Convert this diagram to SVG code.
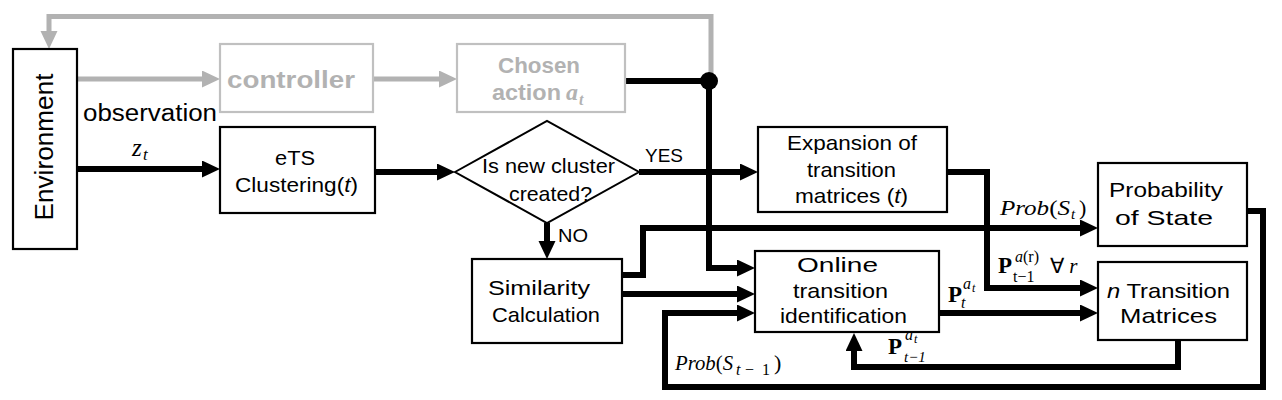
<svg xmlns="http://www.w3.org/2000/svg" width="1282" height="400" viewBox="0 0 1282 400">
<defs>
<marker id="ab" markerUnits="userSpaceOnUse" markerWidth="18" markerHeight="18" refX="6" refY="8.5" orient="auto"><path d="M0,0 L18,8.5 L0,17 z" fill="#000"/></marker>
<marker id="ag" markerUnits="userSpaceOnUse" markerWidth="18" markerHeight="18" refX="6" refY="8.5" orient="auto"><path d="M0,0 L18,8.5 L0,17 z" fill="#b2b2b2"/></marker>
</defs>
<style>
.box{fill:#fff;stroke:#000;stroke-width:2.2}
.gbox{fill:#fff;stroke:#c0c0c0;stroke-width:2.2}
.t{font-family:"Liberation Sans",Arial,sans-serif;fill:#000}
.g{font-family:"Liberation Sans",Arial,sans-serif;font-weight:bold;fill:#b2b2b2}
.m{font-family:"Liberation Serif","Times New Roman",serif;fill:#000}
.c{stroke:#000;stroke-width:6;fill:none;stroke-linejoin:miter}
.cg{stroke:#b2b2b2;stroke-width:5;fill:none;stroke-linejoin:miter}
</style>
<rect width="1282" height="400" fill="#fff"/>
<g id="connectors">
<path class="cg" d="M711,81 V16.5 H49 V37" marker-end="url(#ag)"/>
<path class="cg" d="M78,79 H208" marker-end="url(#ag)"/>
<path class="cg" d="M374,79 H445" marker-end="url(#ag)"/>
<path class="c" d="M626,81 H709"/>
<path class="c" d="M709,81 V268 H743" marker-end="url(#ab)"/>
<circle cx="709" cy="81" r="9" fill="#000"/>
<path class="c" d="M78,169 H208" marker-end="url(#ab)"/>
<path class="c" d="M375,172 H443" marker-end="url(#ab)"/>
<path class="c" d="M639,172 H746" marker-end="url(#ab)"/>
<path class="c" d="M547,223 V247" marker-end="url(#ab)"/>
<path class="c" d="M622,275 H643 V228 H1086" marker-end="url(#ab)"/>
<path class="c" d="M622,294 H743" marker-end="url(#ab)"/>
<path class="c" d="M1247,211 H1263 V387 H665 V313 H743" marker-end="url(#ab)"/>
<path class="c" d="M947,172 H987 V288 H1086" marker-end="url(#ab)"/>
<path class="c" d="M939,313 H1086" marker-end="url(#ab)"/>
<path class="c" d="M1178,340 V367 H854 V345" marker-end="url(#ab)"/>
</g>
<g id="environment">
<rect class="box" x="13" y="49" width="64" height="200"/>
<text class="t" font-size="26" text-anchor="middle" transform="translate(53,147) rotate(-90)" textLength="147" lengthAdjust="spacingAndGlyphs">Environment</text>
</g>
<g id="controller">
<rect class="gbox" x="220" y="44" width="153" height="68"/>
<text class="g" font-size="24" x="291" y="88" text-anchor="middle" textLength="128" lengthAdjust="spacingAndGlyphs">controller</text>
</g>
<g id="chosen-action">
<rect class="gbox" x="457" y="44" width="168" height="68"/>
<text class="g" font-size="22" x="539" y="73" text-anchor="middle" textLength="82" lengthAdjust="spacingAndGlyphs">Chosen</text>
<text class="g" font-size="22" x="492" y="100" textLength="69" lengthAdjust="spacingAndGlyphs">action</text>
<text class="m" font-size="24" x="566" y="100" font-style="italic" font-weight="bold" style="fill:#b2b2b2">a</text>
<text class="m" font-size="16" x="579" y="105" font-style="italic" font-weight="bold" style="fill:#b2b2b2">t</text>
</g>
<g id="observation-label">
<text class="t" font-size="23" x="83" y="121" textLength="134" lengthAdjust="spacingAndGlyphs">observation</text>
<text class="m" font-size="25" x="132" y="156" font-style="italic">z</text>
<text class="m" font-size="17" x="143" y="160" font-style="italic">t</text>
</g>
<g id="ets">
<rect class="box" x="220" y="127" width="155" height="86"/>
<text class="t" font-size="21" x="295" y="165" text-anchor="middle" textLength="40" lengthAdjust="spacingAndGlyphs">eTS</text>
<text class="t" font-size="21" x="296.5" y="192" text-anchor="middle" textLength="123" lengthAdjust="spacingAndGlyphs">Clustering(<tspan font-style="italic">t</tspan>)</text>
</g>
<g id="decision">
<polygon points="455,172 547,121 639,172 547,223" fill="#fff" stroke="#000" stroke-width="2"/>
<text class="t" font-size="21" x="548.5" y="173" text-anchor="middle" textLength="133" lengthAdjust="spacingAndGlyphs">Is new cluster</text>
<text class="t" font-size="21" x="550.5" y="201" text-anchor="middle" textLength="83" lengthAdjust="spacingAndGlyphs">created?</text>
<text class="t" font-size="19" x="645" y="162" textLength="38" lengthAdjust="spacingAndGlyphs">YES</text>
<text class="t" font-size="19" x="558" y="242" textLength="30" lengthAdjust="spacingAndGlyphs">NO</text>
</g>
<g id="expansion">
<rect class="box" x="758" y="127" width="189" height="85"/>
<text class="t" font-size="21" x="852" y="150" text-anchor="middle" textLength="130" lengthAdjust="spacingAndGlyphs">Expansion of</text>
<text class="t" font-size="21" x="851.5" y="177" text-anchor="middle" textLength="89" lengthAdjust="spacingAndGlyphs">transition</text>
<text class="t" font-size="21" x="851.5" y="203" text-anchor="middle" textLength="113" lengthAdjust="spacingAndGlyphs">matrices (<tspan font-style="italic">t</tspan>)</text>
</g>
<g id="similarity">
<rect class="box" x="472" y="259" width="150" height="84"/>
<text class="t" font-size="21" x="539" y="295" text-anchor="middle" textLength="102" lengthAdjust="spacingAndGlyphs">Similarity</text>
<text class="t" font-size="21" x="546" y="322" text-anchor="middle" textLength="108" lengthAdjust="spacingAndGlyphs">Calculation</text>
</g>
<g id="online">
<rect class="box" x="755" y="251" width="184" height="81"/>
<text class="t" font-size="21" x="837.5" y="272" text-anchor="middle" textLength="81" lengthAdjust="spacingAndGlyphs">Online</text>
<text class="t" font-size="21" x="840.5" y="298" text-anchor="middle" textLength="95" lengthAdjust="spacingAndGlyphs">transition</text>
<text class="t" font-size="21" x="843.5" y="323" text-anchor="middle" textLength="127" lengthAdjust="spacingAndGlyphs">identification</text>
</g>
<g id="probability">
<rect class="box" x="1098" y="163" width="149" height="83"/>
<text class="t" font-size="21" x="1166" y="197" text-anchor="middle" textLength="114" lengthAdjust="spacingAndGlyphs">Probability</text>
<text class="t" font-size="21" x="1164" y="225" text-anchor="middle" textLength="98" lengthAdjust="spacingAndGlyphs">of State</text>
</g>
<g id="transition-matrices">
<rect class="box" x="1098" y="262" width="149" height="78"/>
<text class="t" font-size="21" x="1168.5" y="298" text-anchor="middle" textLength="123" lengthAdjust="spacingAndGlyphs"><tspan font-style="italic">n</tspan> Transition</text>
<text class="t" font-size="21" x="1168.5" y="323" text-anchor="middle" textLength="97" lengthAdjust="spacingAndGlyphs">Matrices</text>
</g>
<g id="labels">
<text class="m" font-size="22" x="1000" y="215" textLength="70" lengthAdjust="spacingAndGlyphs"><tspan font-style="italic">Prob</tspan>(<tspan font-style="italic">S</tspan></text>
<text class="m" font-size="15" x="1071" y="219" font-style="italic">t</text>
<text class="m" font-size="22" x="1079" y="215">)</text>
<text class="m" font-size="22" x="675" y="370" textLength="58" lengthAdjust="spacingAndGlyphs"><tspan font-style="italic">Prob</tspan>(<tspan font-style="italic">S</tspan></text>
<text class="m" font-size="16" y="375"><tspan x="736" font-style="italic">t</tspan><tspan x="745">−</tspan><tspan x="762">1</tspan></text>
<text class="m" font-size="22" x="774" y="370">)</text>
<text class="m" font-size="23" x="998" y="273" font-weight="bold">P</text>
<text class="m" font-size="16" x="1015" y="262"><tspan font-style="italic">a</tspan>(r)</text>
<text class="m" font-size="16" x="1013" y="282">t−1</text>
<text class="m" font-size="21" x="1050" y="273">∀ <tspan font-style="italic">r</tspan></text>
<text class="m" font-size="23" x="948" y="302" font-weight="bold">P</text>
<text class="m" font-size="16" x="963" y="289" font-style="italic">a</text>
<text class="m" font-size="12" x="972" y="292" font-style="italic">t</text>
<text class="m" font-size="16" x="961" y="308" font-style="italic">t</text>
<text class="m" font-size="23" x="888" y="354" font-weight="bold">P</text>
<text class="m" font-size="16" x="905" y="340" font-style="italic">a</text>
<text class="m" font-size="12" x="914" y="343" font-style="italic">t</text>
<text class="m" font-size="15" x="904" y="362" font-style="italic">t−1</text>
</g>
</svg>
